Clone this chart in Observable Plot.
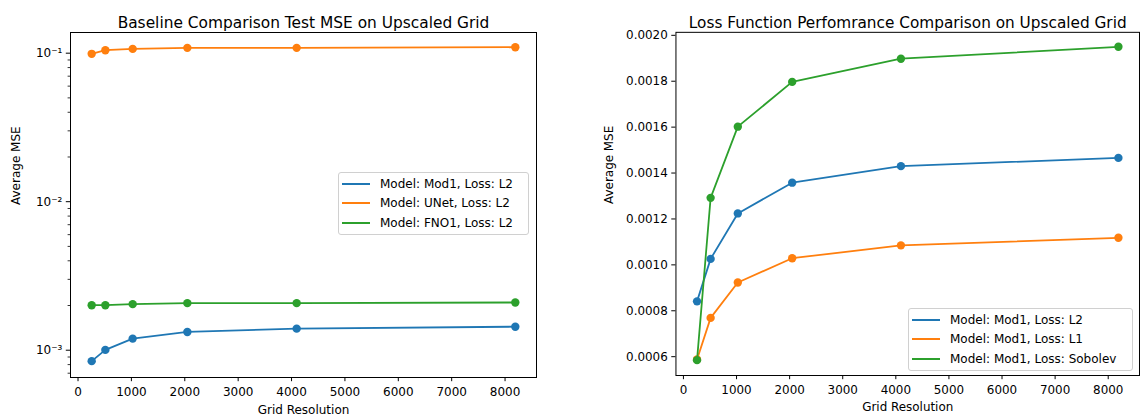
<!DOCTYPE html>
<html>
<head>
<meta charset="utf-8">
<script src="https://cdn.jsdelivr.net/npm/d3@7"></script>
<script src="https://cdn.jsdelivr.net/npm/@observablehq/plot@0.6"></script>
<style>
  html, body { margin: 0; padding: 0; background: #fff; overflow: hidden; }
  #wrap { position: relative; width: 1140px; height: 415px; overflow: hidden; font-family: "DejaVu Sans", sans-serif; }
  .panel { position: absolute; top: 0; }
  .legend { position: absolute; box-sizing: border-box; background: rgba(255,255,255,0.8);
            border: 1px solid #d0d0d0; border-radius: 3px; padding: 1px 4px 1px 3px;
            font-family: "DejaVu Sans", sans-serif; font-size: 12px; color: #000; }
  .legend .row { display: flex; align-items: center; height: 19.6px; white-space: nowrap; }
  .legend .sw { display: inline-block; width: 28px; height: 2px; margin-right: 10px; }
</style>
</head>
<body>
<div id="wrap">
  <div id="left" class="panel" style="left:0px"></div>
  <div id="right" class="panel" style="left:570px"></div>
</div>
<script>
// ---- data ----
const resolutions = [256, 512, 1024, 2048, 4096, 8192];

const baselineLabels = ["Model: Mod1, Loss: L2", "Model: UNet, Loss: L2", "Model: FNO1, Loss: L2"];
const baselineMod1 = [0.000844, 0.001005, 0.001197, 0.001327, 0.001397, 0.00144];
const baselineUNet = [0.0990, 0.1047, 0.1069, 0.1086, 0.1086, 0.1097];
const baselineFNO1 = [0.00201, 0.00201, 0.002043, 0.002075, 0.002075, 0.002096];

const lossLabels = ["Model: Mod1, Loss: L2", "Model: Mod1, Loss: L1", "Model: Mod1, Loss: Sobolev"];
const lossL2 = [0.000841, 0.001026, 0.001224, 0.001358, 0.00143, 0.001466];
const lossL1 = [0.000588, 0.000769, 0.000923, 0.001029, 0.001085, 0.001118];
const lossSobolev = [0.000585, 0.001292, 0.001602, 0.001797, 0.001898, 0.00195];

const seriesColors = ["#1f77b4", "#ff7f0e", "#2ca02c"];

const xTicks = [0, 1000, 2000, 3000, 4000, 5000, 6000, 7000, 8000];
const logMajorTicks = [0.001, 0.01, 0.1];
const logMajorLabels = ["10\u207B\u00B3", "10\u207B\u00B2", "10\u207B\u00B9"];
const logMinorTicks = [0.0007, 0.0008, 0.0009,
  0.002, 0.003, 0.004, 0.005, 0.006, 0.007, 0.008, 0.009,
  0.02, 0.03, 0.04, 0.05, 0.06, 0.07, 0.08, 0.09];
const linTicks = [0.0006, 0.0008, 0.0010, 0.0012, 0.0014, 0.0016, 0.0018, 0.0020];

const leftTitle = "Baseline Comparison Test MSE on Upscaled Grid";
const rightTitle = "Loss Function Perfomrance Comparison on Upscaled Grid";
const xLabel = "Grid Resolution";
const yLabel = "Average MSE";

// ---- helpers ----
function rowsFor(values) {
  return resolutions.map((x, j) => ({x, y: values[j]}));
}

function seriesMarks(seriesList) {
  const marks = [];
  seriesList.forEach((vals, i) => {
    const rows = rowsFor(vals);
    marks.push(Plot.line(rows, {x: "x", y: "y", stroke: seriesColors[i], strokeWidth: 1.8}));
    marks.push(Plot.dot(rows, {x: "x", y: "y", fill: seriesColors[i], r: 4.2}));
  });
  return marks;
}

function textMarks(title, dxY) {
  return [
    Plot.text([title], {text: d => d, frameAnchor: "top", dy: -15.5, fontSize: 15.4, fill: "black"}),
    Plot.text([xLabel], {text: d => d, frameAnchor: "bottom", dy: 36, fontSize: 12, fill: "black"}),
    Plot.text([yLabel], {text: d => d, frameAnchor: "left", dx: dxY, rotate: -90, fontSize: 12, fill: "black"})
  ];
}

const xDomain = [-141, 8589];
const commonStyle = {fontFamily: "DejaVu Sans", fontSize: "12px", color: "black", background: "white", overflow: "visible"};

// ---- left panel (log scale) ----
const leftPlot = Plot.plot({
  width: 570, height: 415,
  marginLeft: 70, marginRight: 34, marginTop: 32, marginBottom: 38,
  style: commonStyle,
  x: {domain: xDomain},
  y: {type: "log", domain: [0.000655, 0.1378]},
  marks: [
    Plot.axisX({ticks: xTicks, tickSize: 4.2, tickPadding: 5.5, fontSize: 12, label: null, tickFormat: d3.format("d")}),
    Plot.axisY({ticks: logMajorTicks, tickSize: 4.2, tickPadding: 4, fontSize: 12, label: null,
      tickFormat: d => logMajorLabels[logMajorTicks.indexOf(d)]}),
    Plot.axisY({ticks: logMinorTicks, tickSize: 2.4, tickFormat: () => "", label: null, strokeWidth: 0.8}),
    ...seriesMarks([baselineMod1, baselineUNet, baselineFNO1]),
    Plot.frame({stroke: "black", strokeWidth: 1}),
    ...textMarks(leftTitle, -54)
  ]
});
document.getElementById("left").append(leftPlot);

// ---- right panel (linear scale) ----
const rightPlot = Plot.plot({
  width: 573, height: 415,
  marginLeft: 106, marginRight: 1, marginTop: 32, marginBottom: 38,
  style: commonStyle,
  x: {domain: xDomain},
  y: {domain: [0.000518, 0.002013]},
  marks: [
    Plot.axisX({ticks: xTicks, tickSize: 4.2, tickPadding: 5.5, fontSize: 12, label: null, tickFormat: d3.format("d")}),
    Plot.axisY({ticks: linTicks, tickSize: 4.2, tickPadding: 4, fontSize: 12, label: null, tickFormat: d3.format(".4f")}),
    ...seriesMarks([lossL2, lossL1, lossSobolev]),
    Plot.frame({stroke: "black", strokeWidth: 1}),
    ...textMarks(rightTitle, -67)
  ]
});
document.getElementById("right").append(rightPlot);

// ---- legends ----
function legend(labels, left, top, width) {
  const box = document.createElement("div");
  box.className = "legend";
  box.style.left = left + "px";
  box.style.top = top + "px";
  box.style.width = width + "px";
  labels.forEach((lab, i) => {
    const row = document.createElement("div");
    row.className = "row";
    const sw = document.createElement("span");
    sw.className = "sw";
    sw.style.background = seriesColors[i];
    const t = document.createElement("span");
    t.textContent = lab;
    row.append(sw, t);
    box.append(row);
  });
  document.getElementById("wrap").append(box);
}
legend(baselineLabels, 338, 172, 191);
legend(lossLabels, 908, 308, 225);
</script>
</body>
</html>
